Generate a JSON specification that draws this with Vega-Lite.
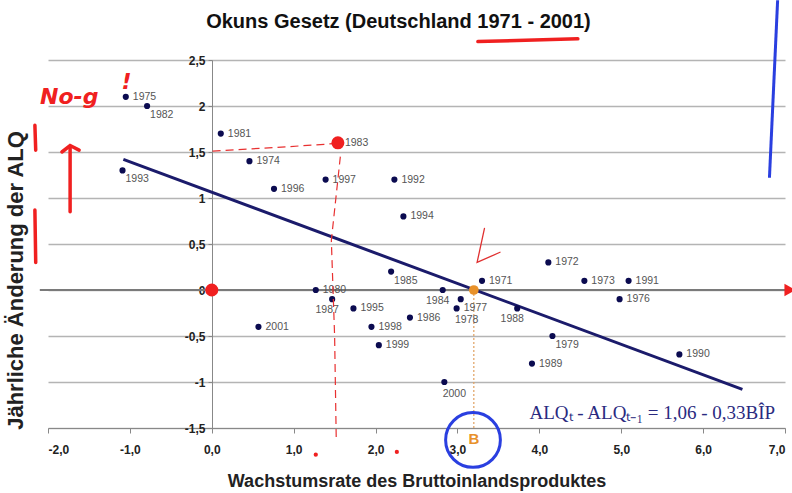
{
  "$schema": "https://vega.github.io/schema/vega-lite/v6.json",
  "width": 737,
  "height": 368,
  "autosize": "none",
  "padding": {"left": 48, "top": 60, "right": 7, "bottom": 65},
  "background": "white",
  "config": {"view": {"stroke": null}, "font": "Liberation Sans"},
  "datasets": {
    "pts": [
      {"year": "1971", "bip": 3.30, "alq": 0.1},
      {"year": "1972", "bip": 4.11, "alq": 0.3},
      {"year": "1973", "bip": 4.55, "alq": 0.1},
      {"year": "1974", "bip": 0.46, "alq": 1.4},
      {"year": "1975", "bip": -1.05, "alq": 2.1},
      {"year": "1976", "bip": 4.98, "alq": -0.1},
      {"year": "1977", "bip": 3.04, "alq": -0.1},
      {"year": "1978", "bip": 2.99, "alq": -0.2},
      {"year": "1979", "bip": 4.16, "alq": -0.5},
      {"year": "1980", "bip": 1.27, "alq": 0.0},
      {"year": "1981", "bip": 0.11, "alq": 1.7},
      {"year": "1982", "bip": -0.79, "alq": 2.0},
      {"year": "1983", "bip": 1.54, "alq": 1.6},
      {"year": "1984", "bip": 2.82, "alq": 0.0},
      {"year": "1985", "bip": 2.19, "alq": 0.2},
      {"year": "1986", "bip": 2.42, "alq": -0.3},
      {"year": "1987", "bip": 1.47, "alq": -0.1},
      {"year": "1988", "bip": 3.73, "alq": -0.2},
      {"year": "1989", "bip": 3.91, "alq": -0.8},
      {"year": "1990", "bip": 5.71, "alq": -0.7},
      {"year": "1991", "bip": 5.09, "alq": 0.1},
      {"year": "1992", "bip": 2.23, "alq": 1.2},
      {"year": "1993", "bip": -1.09, "alq": 1.3},
      {"year": "1994", "bip": 2.34, "alq": 0.8},
      {"year": "1995", "bip": 1.73, "alq": -0.2},
      {"year": "1996", "bip": 0.76, "alq": 1.1},
      {"year": "1997", "bip": 1.39, "alq": 1.2},
      {"year": "1998", "bip": 1.95, "alq": -0.4},
      {"year": "1999", "bip": 2.04, "alq": -0.6},
      {"year": "2000", "bip": 2.84, "alq": -1.0},
      {"year": "2001", "bip": 0.57, "alq": -0.4}
    ],
    "titletext": [{"bip": 2.28, "alq": 2.913, "txt": "Okuns Gesetz (Deutschland 1971 - 2001)"}],
    "zeroline": [{"bip": -2.1, "bip2": 7, "alq": 0}],
    "fit": [{"bip": -1.08, "alq": 1.42}, {"bip": 6.48, "alq": -1.08}],
    "bpoint": [{"bip": 3.2, "alq": 0, "alq2": -1.5}],
    "blabel": [{"bip": 3.2, "alq": -1.62, "txt": "B"}],
    "equation": [{"bip": 3.88, "alq": -1.34, "txt": "ALQₜ - ALQₜ₋₁ = 1,06 - 0,33BÎP"}],
    "reddots": [{"bip": 0, "alq": 0}, {"bip": 1.54, "alq": 1.6}],
    "redsmall": [{"bip": 1.27, "alq": -1.79}, {"bip": 2.26, "alq": -1.76}],
    "redarrow": [{"bip": 7.06, "alq": 0}],
    "reddash": [
      {"id": "h", "o": 1, "bip": 0.01, "alq": 1.51},
      {"id": "h", "o": 2, "bip": 0.8, "alq": 1.55},
      {"id": "h", "o": 3, "bip": 1.48, "alq": 1.59},
      {"id": "v", "o": 1, "bip": 1.57, "alq": 1.45},
      {"id": "v", "o": 2, "bip": 1.46, "alq": 0.54},
      {"id": "v", "o": 3, "bip": 1.5, "alq": -0.5},
      {"id": "v", "o": 4, "bip": 1.52, "alq": -1.63}
    ],
    "redsolid": [
      {"id": "u", "o": 1, "bip": 3.25, "alq": 2.70},
      {"id": "u", "o": 2, "bip": 4.47, "alq": 2.73},
      {"id": "s1", "o": 1, "bip": -2.16, "alq": 1.79},
      {"id": "s1", "o": 2, "bip": -2.15, "alq": 1.52},
      {"id": "s2", "o": 1, "bip": -2.16, "alq": 0.87},
      {"id": "s2", "o": 2, "bip": -2.15, "alq": 0.30},
      {"id": "a", "o": 1, "bip": -1.73, "alq": 0.85},
      {"id": "a", "o": 2, "bip": -1.73, "alq": 1.56},
      {"id": "ah", "o": 1, "bip": -1.83, "alq": 1.5},
      {"id": "ah", "o": 2, "bip": -1.73, "alq": 1.57},
      {"id": "ah", "o": 3, "bip": -1.62, "alq": 1.52}
    ],
    "redthin": [
      {"id": "c", "o": 1, "bip": 3.33, "alq": 0.67},
      {"id": "c", "o": 2, "bip": 3.24, "alq": 0.30},
      {"id": "c", "o": 3, "bip": 3.52, "alq": 0.41}
    ],
    "redtext": [
      {"bip": -1.74, "alq": 2.1, "txt": "No-g"},
      {"bip": -1.04, "alq": 2.26, "txt": "!"}
    ],
    "bluecircle": [{"bip": 3.19, "alq": -1.63}],
    "blueline": [{"o": 1, "bip": 6.91, "alq": 3.15}, {"o": 2, "bip": 6.81, "alq": 1.22}]
  },
  "encoding": {
    "x": {
      "field": "bip",
      "type": "quantitative",
      "scale": {"domain": [-2, 7], "nice": false, "zero": false},
      "axis": {
        "values": [-2, -1, 0, 1, 2, 3, 4, 5, 6, 7],
        "labelExpr": "(datum.value < 0 ? '-' : '') + replace(format(abs(datum.value), '.1f'), '.', ',')",
        "grid": false,
        "domainColor": "#888888",
        "tickColor": "#888888",
        "tickSize": 5,
        "labelPadding": 11,
        "labelFont": "Liberation Sans",
        "labelFontWeight": "bold",
        "labelFontSize": 12,
        "labelColor": "#222222",
        "title": "Wachstumsrate des Bruttoinlandsproduktes",
        "titleFont": "Liberation Sans",
        "titleFontWeight": "bold",
        "titleFontSize": 18,
        "titleColor": "#222222",
        "titlePadding": 17
      }
    },
    "y": {
      "field": "alq",
      "type": "quantitative",
      "scale": {"domain": [-1.5, 2.5], "nice": false, "zero": false},
      "axis": {
        "values": [-1.5, -1, -0.5, 0, 0.5, 1, 1.5, 2, 2.5],
        "labelExpr": "replace(toString(datum.value), '.', ',')",
        "offset": -164,
        "grid": true,
        "gridColor": "#b4b4b4",
        "gridWidth": 1.5,
        "domainColor": "#888888",
        "tickColor": "#888888",
        "tickSize": 4,
        "labelPadding": 3,
        "labelFont": "Liberation Sans",
        "labelFontWeight": "bold",
        "labelFontSize": 12,
        "labelColor": "#222222",
        "title": "Jährliche Änderung der ALQ",
        "titleFont": "Liberation Sans",
        "titleFontWeight": "bold",
        "titleFontSize": 22,
        "titleColor": "#222222",
        "titleAngle": -90,
        "titleX": -197,
        "titleY": 220,
        "titleAlign": "center",
        "titleBaseline": "middle"
      }
    }
  },
  "layer": [
    {
      "data": {"name": "zeroline"},
      "mark": {"type": "rule", "color": "#7a7a7a", "strokeWidth": 1.8},
      "encoding": {"x2": {"field": "bip2"}}
    },
    {
      "data": {"name": "fit"},
      "mark": {"type": "line", "color": "#1b1b6b", "strokeWidth": 3}
    },
    {
      "data": {"name": "bpoint"},
      "mark": {"type": "rule", "color": "#e0a060", "strokeWidth": 1.2, "strokeDash": [2, 2]},
      "encoding": {"y2": {"field": "alq2"}}
    },
    {
      "data": {"name": "pts"},
      "mark": {"type": "circle", "size": 38, "color": "#0b0b50", "opacity": 1}
    },
    {
      "data": {"name": "pts"},
      "transform": [{"filter": {"field": "year", "oneOf": ["1971", "1972", "1973", "1974", "1975", "1976", "1980", "1981", "1983", "1986", "1989", "1990", "1991", "1992", "1994", "1995", "1996", "1997", "1998", "1999", "2001"]}}],
      "mark": {"type": "text", "align": "left", "baseline": "middle", "dx": 7, "fontSize": 10.5, "color": "#555555", "font": "Liberation Sans"},
      "encoding": {"text": {"field": "year", "type": "nominal"}}
    },
    {
      "data": {"name": "pts"},
      "transform": [{"filter": {"field": "year", "oneOf": ["1982", "1993", "1985", "1979", "1977"]}}],
      "mark": {"type": "text", "align": "left", "baseline": "middle", "dx": 3, "dy": 9, "fontSize": 10.5, "color": "#555555", "font": "Liberation Sans"},
      "encoding": {"text": {"field": "year", "type": "nominal"}}
    },
    {
      "data": {"name": "pts"},
      "transform": [{"filter": {"field": "year", "oneOf": ["1984", "1987", "1988"]}}],
      "mark": {"type": "text", "align": "center", "baseline": "middle", "dx": -5, "dy": 11, "fontSize": 10.5, "color": "#555555", "font": "Liberation Sans"},
      "encoding": {"text": {"field": "year", "type": "nominal"}}
    },
    {
      "data": {"name": "pts"},
      "transform": [{"filter": {"field": "year", "oneOf": ["1978", "2000"]}}],
      "mark": {"type": "text", "align": "center", "baseline": "middle", "dx": 10, "dy": 12, "fontSize": 10.5, "color": "#555555", "font": "Liberation Sans"},
      "encoding": {"text": {"field": "year", "type": "nominal"}}
    },
    {
      "data": {"name": "bpoint"},
      "mark": {"type": "circle", "size": 95, "color": "#e8912a", "opacity": 1}
    },
    {
      "data": {"name": "blabel"},
      "mark": {"type": "text", "align": "center", "baseline": "middle", "fontSize": 15, "fontWeight": "bold", "color": "#e8912a", "font": "Liberation Sans"},
      "encoding": {"text": {"field": "txt", "type": "nominal"}}
    },
    {
      "data": {"name": "equation"},
      "mark": {"type": "text", "align": "left", "baseline": "middle", "fontSize": 19, "color": "#2a2a80", "font": "Liberation Serif"},
      "encoding": {"text": {"field": "txt", "type": "nominal"}}
    },
    {
      "data": {"name": "titletext"},
      "mark": {"type": "text", "align": "center", "baseline": "middle", "fontSize": 20, "fontWeight": "bold", "color": "#111111", "font": "Liberation Sans"},
      "encoding": {"text": {"field": "txt", "type": "nominal"}}
    },
    {
      "data": {"name": "reddash"},
      "mark": {"type": "line", "color": "#e83030", "strokeWidth": 1.2, "strokeDash": [8, 5]},
      "encoding": {"detail": {"field": "id"}, "order": {"field": "o"}}
    },
    {
      "data": {"name": "redsolid"},
      "mark": {"type": "line", "color": "#f02020", "strokeWidth": 3.5, "strokeCap": "round"},
      "encoding": {"detail": {"field": "id"}, "order": {"field": "o"}}
    },
    {
      "data": {"name": "redthin"},
      "mark": {"type": "line", "color": "#e03030", "strokeWidth": 1.3, "strokeCap": "round"},
      "encoding": {"detail": {"field": "id"}, "order": {"field": "o"}}
    },
    {
      "data": {"name": "reddots"},
      "mark": {"type": "circle", "size": 170, "color": "#f02020", "opacity": 1}
    },
    {
      "data": {"name": "redsmall"},
      "mark": {"type": "circle", "size": 18, "color": "#f02020", "opacity": 1}
    },
    {
      "data": {"name": "redarrow"},
      "mark": {"type": "point", "shape": "triangle-right", "size": 160, "filled": true, "color": "#f02020", "opacity": 1}
    },
    {
      "data": {"name": "redtext"},
      "mark": {"type": "text", "align": "center", "baseline": "middle", "fontSize": 22, "fontWeight": "bold", "fontStyle": "italic", "color": "#f02020", "font": "DejaVu Sans"},
      "encoding": {"text": {"field": "txt", "type": "nominal"}}
    },
    {
      "data": {"name": "bluecircle"},
      "mark": {"type": "point", "shape": "circle", "size": 3000, "filled": false, "color": "#2a3fe0", "strokeWidth": 3, "opacity": 1}
    },
    {
      "data": {"name": "blueline"},
      "mark": {"type": "line", "color": "#2a3fe0", "strokeWidth": 3},
      "encoding": {"order": {"field": "o"}}
    }
  ]
}
